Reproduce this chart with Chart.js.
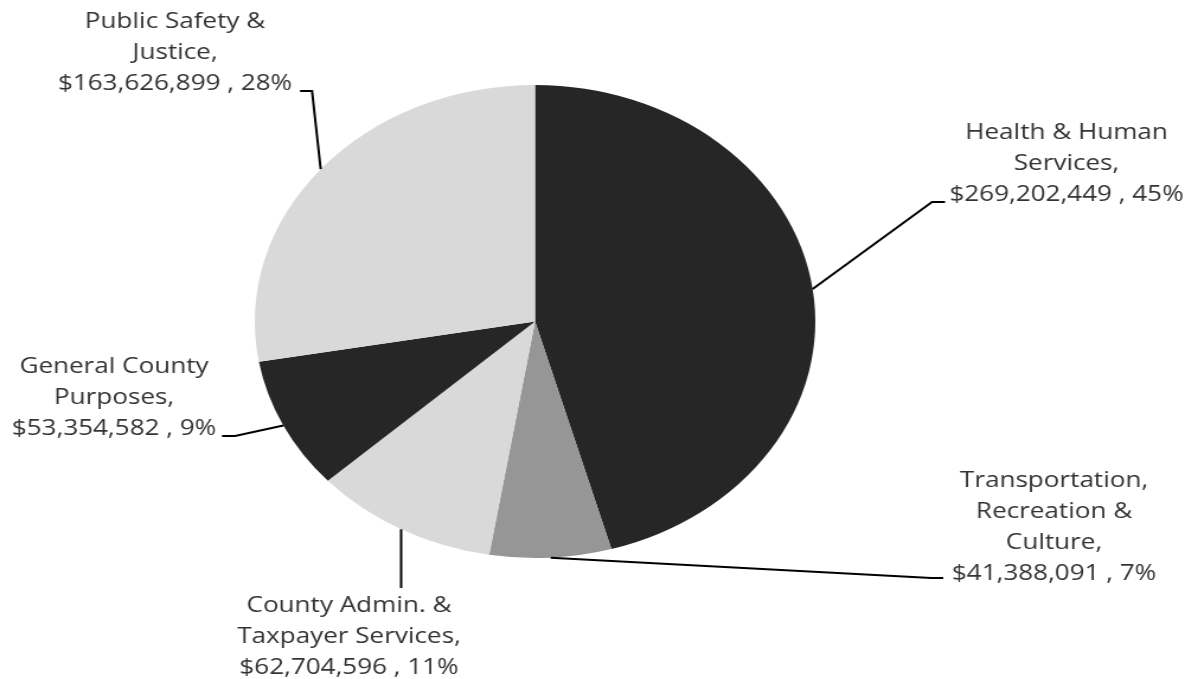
<!DOCTYPE html>
<html>
<head>
<meta charset="utf-8">
<script src="https://cdn.jsdelivr.net/npm/chart.js@4"></script>
<style>
  html, body { margin: 0; padding: 0; background: #fff; overflow: hidden; }
  /* the reference pie is stretched sideways, so the whole chart is too */
  #wrap { width: 1007px; height: 679px; transform: scaleX(1.185); transform-origin: 0 0; }
</style>
</head>
<body>
<div id="wrap"><canvas id="budgetChart" width="1007" height="679"></canvas></div>
<script>
const categories = [
    'Health & Human Services',
    'Transportation, Recreation & Culture',
    'County Admin. & Taxpayer Services',
    'General County Purposes',
    'Public Safety & Justice'
];
const amounts = [269202449, 41388091, 62704596, 53354582, 163626899];
const percents = [45, 7, 11, 9, 28];
const labelLines = [
    ['Health & Human', 'Services,'],
    ['Transportation,', 'Recreation &', 'Culture,'],
    ['County Admin. &', 'Taxpayer Services,'],
    ['General County', 'Purposes,'],
    ['Public Safety &', 'Justice,']
];
const sliceColors = ['#262626', '#969696', '#d9d9d9', '#262626', '#d9d9d9'];

// where each label sits and how its leader line runs (x null = straight down from the slice)
const callouts = [
    { cx: 900, y0: 133, path: [[786.5, 202], [797.5, 202]] },
    { cx: 889.5, y0: 481, path: [[786, 578], [796, 578]] },
    { cx: 294.5, y0: 606, path: [[null, 588]] },
    { cx: 96.2, y0: 367, path: [[198.3, 436], [187.3, 436]] },
    { cx: 147.7, y0: 22, path: [[263.3, 91], [253.2, 91]] }
];

const money = v => '$' + v.toLocaleString('en-US');

// Labels with leader lines, drawn after the slices
const calloutPlugin = {
    id: 'callouts',
    afterDatasetsDraw(chart) {
        const ctx = chart.ctx;
        const arcs = chart.getDatasetMeta(0).data;
        ctx.save();
        arcs.forEach((arc, i) => {
            const c = callouts[i];
            const mid = (arc.startAngle + arc.endAngle) / 2;
            const ax = arc.x + Math.cos(mid) * arc.outerRadius;
            const ay = arc.y + Math.sin(mid) * arc.outerRadius;

            ctx.strokeStyle = '#000';
            ctx.lineWidth = 2;
            ctx.beginPath();
            ctx.moveTo(ax, ay);
            c.path.forEach(([px, py]) => ctx.lineTo(px === null ? ax : px, py));
            ctx.stroke();

            const lines = labelLines[i].concat(money(amounts[i]) + ' , ' + percents[i] + '%');
            ctx.fillStyle = '#333333';
            ctx.font = '22px "Open Sans"';
            ctx.textAlign = 'center';
            ctx.textBaseline = 'middle';
            lines.forEach((t, k) => ctx.fillText(t, c.cx, c.y0 + k * 31));
        });
        ctx.restore();
    }
};

new Chart(document.getElementById('budgetChart'), {
    type: 'pie',
    data: {
        labels: categories,
        datasets: [{
            data: amounts,
            backgroundColor: sliceColors,
            borderWidth: 0
        }]
    },
    options: {
        responsive: false,
        animation: false,
        layout: {
            padding: { top: 85, bottom: 121, left: 215, right: 319 }
        },
        plugins: {
            legend: { display: false },
            tooltip: { enabled: false }
        }
    },
    plugins: [calloutPlugin]
});
</script>
</body>
</html>
